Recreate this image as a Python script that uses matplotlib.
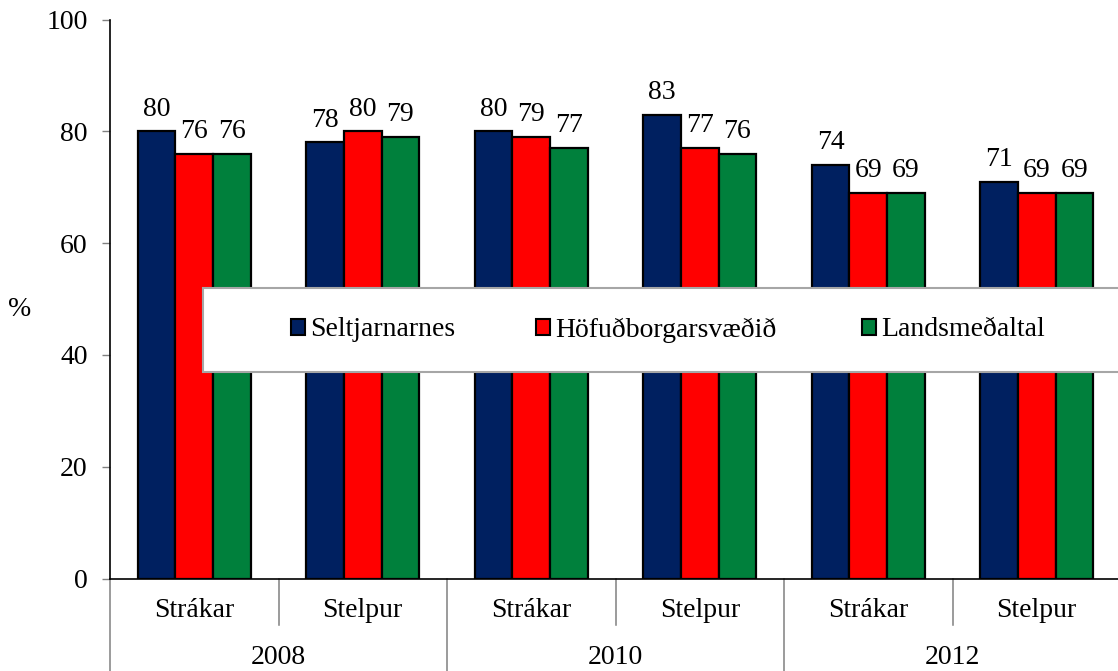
import matplotlib
matplotlib.use("Agg")
import matplotlib.pyplot as plt
from matplotlib.patches import Rectangle, Patch
import numpy as np

years = ["2008", "2010", "2012"]
genders = ["Strákar", "Stelpur"]
categories = ["Strákar", "Stelpur", "Strákar", "Stelpur", "Strákar", "Stelpur"]
series_names = ["Seltjarnarnes", "Höfuðborgarsvæðið", "Landsmeðaltal"]
seltjarnarnes = [80, 78, 80, 83, 74, 71]
hofudborg = [76, 80, 79, 77, 69, 69]
landsmedaltal = [76, 79, 77, 76, 69, 69]
yticks = [0, 20, 40, 60, 80, 100]

colors = ["#002060", "#FF0000", "#00803C"]
FONT = "Liberation Serif"
FS = 20

plt.rcParams["font.family"] = [FONT, "DejaVu Serif"]

W, H = 1118, 671
fig = plt.figure(figsize=(W / 100, H / 100), dpi=100)
ax = fig.add_axes([110 / W, (H - 578.5) / H, (1121 - 110) / W, 559 / H])

x = np.arange(len(categories))
bw = 0.224
for i, (vals, c) in enumerate(zip([seltjarnarnes, hofudborg, landsmedaltal], colors)):
    pos = x + (i - 1) * bw
    ax.bar(pos, vals, width=bw, color=c, edgecolor="black", linewidth=1.6, zorder=2)
    for xp, v in zip(pos, vals):
        ax.annotate(f"{v}", (xp, v), xytext=(0, 7), textcoords="offset points",
                    ha="center", va="bottom", fontsize=FS)

ax.set_xlim(-0.5, len(categories) - 0.5)
ax.set_ylim(0, 100)
ax.set_yticks(yticks)
ax.set_yticklabels([str(t) for t in yticks], fontsize=FS)
ax.tick_params(axis="y", length=6, width=1, color="#808080", pad=10)
ax.set_xticks([])
for s in ["top", "right"]:
    ax.spines[s].set_visible(False)
ax.spines["left"].set_linewidth(1.2)
ax.spines["bottom"].set_linewidth(1.2)
ax.spines["left"].set_zorder(3)
ax.spines["bottom"].set_zorder(3)

trans = ax.get_xaxis_transform()
for xi, lab in zip(x, categories):
    ax.text(xi, -0.057, lab, transform=trans, ha="center", va="center", fontsize=FS)
for j, yr in enumerate(years):
    ax.text(2 * j + 0.5, -0.141, yr, transform=trans, ha="center", va="center", fontsize=FS)
for b in range(len(categories) + 1):
    xb = b - 0.5
    y0 = -0.17 if b % 2 == 0 else -0.083
    ax.plot([xb, xb], [0, y0], transform=trans, color="#808080", lw=1.1, clip_on=False)

fig.text(20 / W, 1 - 310 / H, "%", fontsize=FS, ha="center", va="center")

fig.patches.append(Rectangle((203 / W, 1 - 372 / H), (1130 - 203) / W, (372 - 288) / H,
                             transform=fig.transFigure, facecolor="white",
                             edgecolor="#A6A6A6", linewidth=1.5, zorder=5))
leg_x = [291, 536, 862]
for name, c, lx in zip(series_names, colors, leg_x):
    h = Patch(facecolor=c, edgecolor="black", linewidth=1.5)
    lg = fig.legend([h], [name], loc="center left", bbox_to_anchor=(lx / W, 1 - 330 / H),
                    frameon=False, fontsize=FS, handlelength=0.5, handleheight=0.5,
                    handletextpad=0.2, borderpad=0, borderaxespad=0)
    lg.set_zorder(6)

fig.savefig("out.png", dpi=100)
